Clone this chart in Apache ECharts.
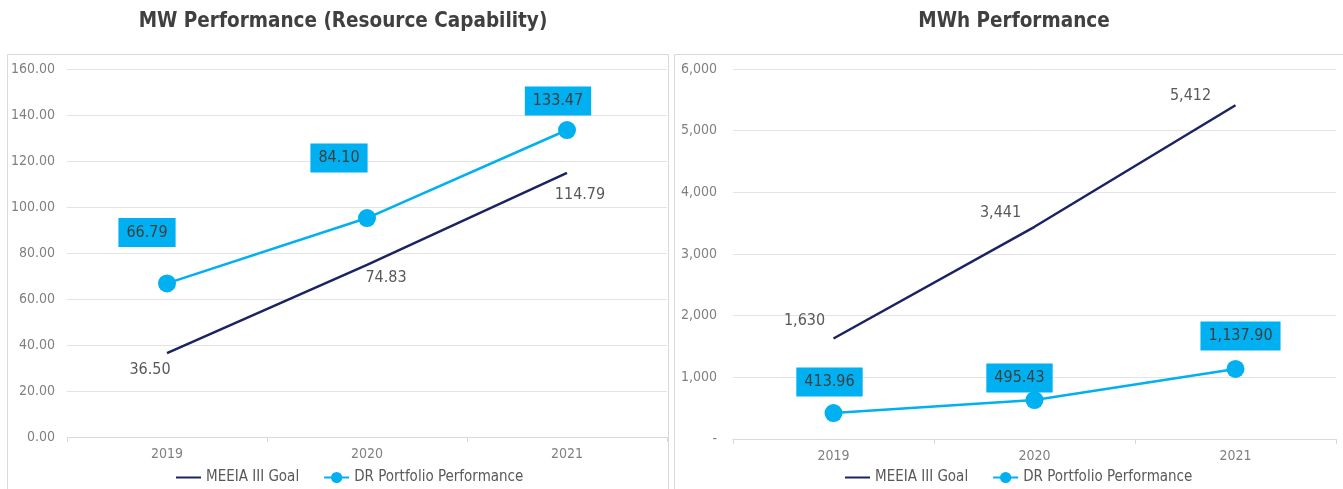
<!DOCTYPE html>
<html>
<head>
<meta charset="utf-8">
<script src="https://cdn.jsdelivr.net/npm/echarts@6/dist/echarts.min.js"></script>
<style>
  html, body { margin: 0; padding: 0; background: #fff; }
  #chart { width: 1343px; height: 489px; }
</style>
</head>
<body>
<div id="chart"></div>
<script>
const years = ["2019", "2020", "2021"];

// MW chart
const goalMw = [36.5, 74.83, 114.79];
const drMw = [66.79, 95.2, 133.47];
const drMwLabels = ["66.79", "84.10", "133.47"];

// MWh chart
const goalMwh = [1630, 3441, 5412];
const drMwh = [421, 632, 1136];
const drMwhLabels = ["413.96", "495.43", "1,137.90"];

const NAVY = "#1c2362";
const CYAN = "#00b0f0";
const TEXT = "#595959";
const AXIS_TEXT = "#808080";
const FONT = "'Liberation Sans Narrow', 'DejaVu Sans Condensed', 'Liberation Sans', sans-serif";

function fmtThousands(v) {
  if (v === 0) return "-";
  return v.toLocaleString("en-US");
}

function valueAxis(gridIndex, max, interval, formatter, margin) {
  return {
    type: "value",
    gridIndex,
    min: 0,
    max,
    interval,
    axisLine: { show: false },
    axisTick: { show: false },
    axisLabel: { color: AXIS_TEXT, fontFamily: FONT, fontSize: 14, margin, formatter },
    splitLine: { lineStyle: { color: "#e3e3e3", width: 1 } },
  };
}

function categoryAxis(gridIndex) {
  return {
    type: "category",
    gridIndex,
    data: years,
    axisLine: { lineStyle: { color: "#d9d9d9" } },
    axisTick: { show: true, length: 5, lineStyle: { color: "#d9d9d9" } },
    axisLabel: { color: AXIS_TEXT, fontFamily: FONT, fontSize: 14, margin: 10 },
  };
}

function goalSeries(axisIndex, values, labelFmt, offsets) {
  return {
    name: "MEEIA III Goal",
    type: "line",
    xAxisIndex: axisIndex,
    yAxisIndex: axisIndex,
    symbol: "circle",
    symbolSize: 0.1,
    showSymbol: true,
    lineStyle: { color: NAVY, width: 2.5 },
    itemStyle: { color: NAVY },
    data: values.map((v, i) => ({
      value: v,
      label: {
        show: true,
        position: "inside",
        offset: offsets[i],
        formatter: () => labelFmt(v),
        color: TEXT,
        fontFamily: FONT,
        fontSize: 16,
      },
    })),
    z: 2,
  };
}

function drSeries(axisIndex, values, labels, offsets) {
  return {
    name: "DR Portfolio Performance",
    type: "line",
    xAxisIndex: axisIndex,
    yAxisIndex: axisIndex,
    symbol: "circle",
    symbolSize: 18,
    lineStyle: { color: CYAN, width: 2.5 },
    itemStyle: { color: CYAN },
    data: values.map((v, i) => ({
      value: v,
      label: {
        show: true,
        position: "inside",
        offset: offsets[i],
        formatter: () => labels[i],
        color: "#404040",
        backgroundColor: CYAN,
        padding: [7, 8, 6, 8],
        fontFamily: FONT,
        fontSize: 16,
      },
    })),
    z: 3,
  };
}

function legendAt(left) {
  return {
    left,
    top: 465,
    itemWidth: 25,
    itemHeight: 14,
    itemGap: 24,
    textStyle: { color: TEXT, fontFamily: FONT, fontSize: 15 },
    data: [
      { name: "MEEIA III Goal", icon: "path://M0,6H25V8H0Z" },
      { name: "DR Portfolio Performance" },
    ],
  };
}

const chart = echarts.init(document.getElementById("chart"));

chart.setOption({
  animation: false,
  title: [
    {
      text: "MW Performance (Resource Capability)",
      left: 338,
      top: 6,
      textAlign: "center",
      textStyle: { color: "#404040", fontFamily: FONT, fontSize: 20.5, fontWeight: "bold" },
    },
    {
      text: "MWh Performance",
      left: 1009,
      top: 6,
      textAlign: "center",
      textStyle: { color: "#404040", fontFamily: FONT, fontSize: 20.5, fontWeight: "bold" },
    },
  ],
  graphic: [
    { type: "rect", shape: { x: 7.5, y: 54.5, width: 661, height: 440 }, style: { fill: "none", stroke: "#d9d9d9", lineWidth: 1 }, z: -1 },
    { type: "rect", shape: { x: 674.5, y: 54.5, width: 675, height: 440 }, style: { fill: "none", stroke: "#d9d9d9", lineWidth: 1 }, z: -1 },
  ],
  legend: [legendAt(171), legendAt(840)],
  grid: [
    { left: 67, right: 676, top: 69, bottom: 52 },
    { left: 733, right: 7, top: 69, bottom: 50 },
  ],
  xAxis: [categoryAxis(0), categoryAxis(1)],
  yAxis: [
    valueAxis(0, 160, 20, (v) => v.toFixed(2), 12),
    valueAxis(1, 6000, 1000, fmtThousands, 16),
  ],
  series: [
    goalSeries(0, goalMw, (v) => v.toFixed(2), [[-17, 17], [19, 13], [13, 22]]),
    drSeries(0, drMw, drMwLabels, [[-20, -51], [-28, -60], [-9, -29]]),
    goalSeries(1, goalMwh, fmtThousands, [[-29, -18], [-34, -14], [-45, -9]]),
    drSeries(1, drMwh, drMwhLabels, [[-4, -31], [-15, -22], [5, -33]]),
  ],
});
</script>
</body>
</html>
